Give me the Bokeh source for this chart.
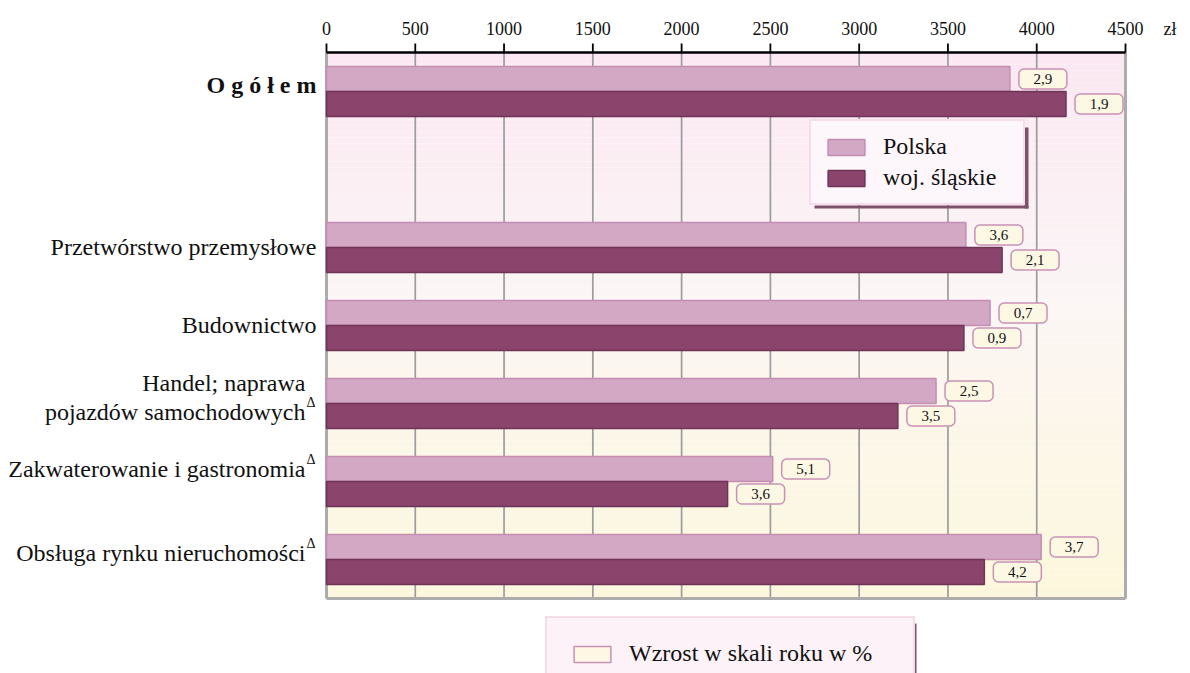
import numpy as np
from bokeh.plotting import figure
from bokeh.models import Range1d, Legend, LegendItem, ColumnDataSource
from bokeh.embed import file_html
from bokeh.resources import INLINE
from bokeh.core.properties import value

# ---------------- data ----------------
categories = ["O g ó ł e m", "", "Przetwórstwo przemysłowe", "Budownictwo",
              "Handel; naprawa\npojazdów samochodowych",
              "Zakwaterowanie i gastronomia", "Obsługa rynku nieruchomości"]
delta_mark = [False, False, False, False, True, True, True]
polska = [3849, None, 3601, 3737, 3433, 2513, 4025]
slaskie = [4165, None, 3805, 3590, 3218, 2259, 3705]
growth_polska = [2.9, None, 3.6, 0.7, 2.5, 5.1, 3.7]
growth_slaskie = [1.9, None, 2.1, 0.9, 3.5, 3.6, 4.2]
x_ticks = [0, 500, 1000, 1500, 2000, 2500, 3000, 3500, 4000, 4500]
tick_labels = [str(v) for v in x_ticks]
series_names = ["Polska", "woj. śląskie"]
growth_name = "Wzrost w skali roku w %"
unit = "zł"

# ---------------- layout constants (pixels) ----------------
FONT = "Liberation Serif"
W, H = 1190, 673
X0_PX, XMAX_PX = 326, 1125      # where 0 and the axis end sit
TOP_PX = 52                      # top of the data area
ROW_PX = 78
XMAX = x_ticks[-1]
n_rows = len(categories)
upp = XMAX / (XMAX_PX - X0_PX)   # data units per pixel
rpp = 1.0 / ROW_PX               # rows per pixel


def px_x(px):
    return (px - X0_PX) * upp


def px_y(py):
    return -0.5 + (py - TOP_PX) * rpp


x_range = Range1d(px_x(0), px_x(W))
y_range = Range1d(px_y(H), px_y(0))

p = figure(width=W, height=H, output_backend="svg", toolbar_location=None,
           x_range=x_range, y_range=y_range,
           x_axis_location=None, y_axis_location=None,
           min_border=0, outline_line_color=None,
           background_fill_color="white", border_fill_color="white")
p.xgrid.visible = False
p.ygrid.visible = False

# background gradient (pink -> white -> cream)
n_strips = 90
edges = np.linspace(-0.5, n_rows - 0.5, n_strips + 1)
t = (np.arange(n_strips) + 0.5) / n_strips
stops_t = [0.0, 0.45, 1.0]
stops_c = np.array([[251, 232, 242], [252, 246, 246], [253, 248, 220]], dtype=float)
cols = []
for tt in t:
    r = np.interp(tt, stops_t, stops_c[:, 0])
    g = np.interp(tt, stops_t, stops_c[:, 1])
    b = np.interp(tt, stops_t, stops_c[:, 2])
    cols.append("#%02x%02x%02x" % (int(r), int(g), int(b)))
p.quad(left=0, right=XMAX, top=edges[:-1], bottom=edges[1:], fill_color=cols, line_color=None)

# grid lines and frame border
y_top, y_bot = -0.5, n_rows - 0.5
p.segment(x0=x_ticks, y0=[y_top] * len(x_ticks), x1=x_ticks, y1=[y_bot] * len(x_ticks),
          line_color="#9c9c9c", line_width=1.7)
p.segment(x0=[0, XMAX, 0], y0=[y_top, y_top, y_bot], x1=[0, XMAX, XMAX],
          y1=[y_bot, y_bot, y_bot], line_color="#acacac", line_width=3)

# top axis: line, ticks, labels, unit
p.segment(x0=[0], y0=[y_top], x1=[XMAX], y1=[y_top], line_color="black", line_width=2.5)
p.segment(x0=x_ticks, y0=[y_top] * len(x_ticks), x1=x_ticks,
          y1=[y_top - 9 * rpp] * len(x_ticks), line_color="black", line_width=1.8)
p.text(x=x_ticks, y=[y_top - 24 * rpp] * len(x_ticks), text=tick_labels,
       text_align="center", text_baseline="middle", text_font=value(FONT),
       text_font_size="18px", text_color="#111111")
p.text(x=[XMAX + 38 * upp], y=[y_top - 24 * rpp], text=[unit], text_align="left",
       text_baseline="middle", text_font=value(FONT), text_font_size="18px", text_color="#111111")

# bars
rows = [i for i, v in enumerate(polska) if v is not None]
bar_h = 0.32
off = 0.16
src_pl = ColumnDataSource(dict(y=[i - off for i in rows], v=[polska[i] for i in rows]))
src_sl = ColumnDataSource(dict(y=[i + off for i in rows], v=[slaskie[i] for i in rows]))
r_pl = p.hbar(y="y", left=0, right="v", height=bar_h, source=src_pl,
              fill_color="#d3a8c5", line_color="#c48db2", line_width=1.5)
r_sl = p.hbar(y="y", left=0, right="v", height=bar_h, source=src_sl,
              fill_color="#8b456c", line_color="#6f3356", line_width=1.5)

# value boxes
gap_u = 9 * upp
boxw_u = 48 * upp
box_h = 20 * rpp
bx_y, bx_l, bx_r, bx_t = [], [], [], []
for i in rows:
    for yy, v, g in ((i - off, polska[i], growth_polska[i]), (i + off, slaskie[i], growth_slaskie[i])):
        bx_y.append(yy)
        bx_l.append(v + gap_u)
        bx_r.append(v + gap_u + boxw_u)
        bx_t.append(("%.1f" % g).replace(".", ","))
src_box = ColumnDataSource(dict(y=bx_y, l=bx_l, r=bx_r,
                                c=[(a + b) / 2 for a, b in zip(bx_l, bx_r)], t=bx_t))
r_box = p.hbar(y="y", left="l", right="r", height=box_h, source=src_box,
               fill_color="#fdf8e4", line_color="#c991b5", line_width=1.5, border_radius=5)
p.text(x="c", y="y", text="t", source=src_box, text_align="center", text_baseline="middle",
       text_font=value(FONT), text_font_size="15px", text_color="#111111")

# category labels (drawn left of the bars)
label_dy = [7, 0, 1, 1, 6, 13, 7]          # px upward shift of each label
LABEL_PX = 24
for i, name in enumerate(categories):
    if not name:
        continue
    has_d = delta_mark[i]
    xr = -(21 if has_d else 10) * upp
    yc = i - label_dy[i] * rpp
    p.text(x=[xr], y=[yc], text=[name], text_align="right", text_baseline="middle",
           text_font=value(FONT), text_font_size="%dpx" % LABEL_PX, text_color="#111111",
           text_font_style="bold" if i == 0 else "normal", text_line_height=1.13)
    if has_d:
        n_lines = name.count("\n") + 1
        last_line_center = yc + (n_lines - 1) * LABEL_PX * 1.13 / 2 * rpp
        p.text(x=[-20 * upp], y=[last_line_center - 9 * rpp], text=["Δ"],
               text_align="left", text_baseline="middle", text_font=value(FONT),
               text_font_size="14px", text_color="#111111")

# legend shadows (drawn under the legend boxes)
SHADOW = "#7d526a"
p.quad(left=[px_x(1024), px_x(814)], right=[px_x(1028), px_x(1028)],
       top=[px_y(127), px_y(205)], bottom=[px_y(208), px_y(208)],
       fill_color=SHADOW, line_color=None)
p.quad(left=[px_x(912)], right=[px_x(916)], top=[px_y(623)], bottom=[px_y(H)],
       fill_color=SHADOW, line_color=None)


def make_legend(items, loc, bg, border, pad, spacing, label_width):
    return Legend(items=items, location=loc, orientation="vertical",
                  background_fill_color=bg, background_fill_alpha=1.0,
                  border_line_color=border, border_line_width=2,
                  label_text_font=FONT, label_text_font_size="24px",
                  label_text_color="#111111",
                  glyph_width=46, glyph_height=20, label_height=20, label_width=label_width,
                  label_standoff=14, padding=pad, spacing=spacing, margin=0)


# top legend
p.add_layout(make_legend([LegendItem(label=series_names[0], renderers=[r_pl]),
                          LegendItem(label=series_names[1], renderers=[r_sl])],
                         (809, H - 205), "#fdf6fa", "#f0c4dc", 12, 4, 128))

# bottom legend
p.add_layout(make_legend([LegendItem(label=growth_name, renderers=[r_box])],
                         (545, H - 691), "#fcf2f7", "#f0c4dc", 22, 0, 262))

open("out.html", "w").write(file_html(p, INLINE))
